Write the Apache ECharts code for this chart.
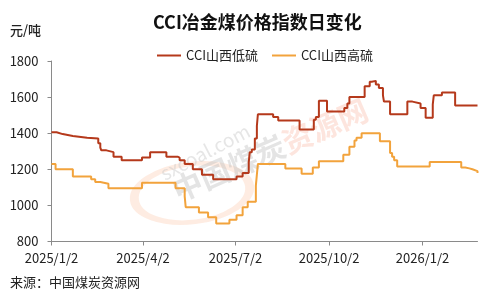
<!DOCTYPE html>
<html>
<head>
<meta charset="utf-8">
<script src="https://cdn.jsdelivr.net/npm/echarts@6/dist/echarts.min.js"></script>
<style>
html,body{margin:0;padding:0;background:#fff;}
#c{width:495px;height:302px;}
</style>
</head>
<body>
<div id="c"></div>
<script>
// ---- data ----
const seriesNames = ['CCI山西低硫', 'CCI山西高硫'];
const lowDates = ['2025-01-02','2025-01-07','2025-01-13','2025-01-23','2025-02-06','2025-02-17','2025-02-19','2025-02-20','2025-02-25','2025-03-04','2025-03-12','2025-04-01','2025-04-09','2025-04-25','2025-05-06','2025-05-08','2025-05-13','2025-05-21','2025-05-30','2025-06-10','2025-07-03','2025-07-09','2025-07-15','2025-07-16','2025-07-18','2025-07-21','2025-07-23','2025-07-24','2025-08-08','2025-08-13','2025-09-03','2025-09-17','2025-09-19','2025-09-22','2025-09-30','2025-10-17','2025-10-20','2025-10-22','2025-11-06','2025-11-11','2025-11-13','2025-11-17','2025-11-20','2025-11-24','2025-11-25','2025-12-01','2025-12-18','2025-12-23','2025-12-31','2026-01-05','2026-01-12','2026-01-13','2026-01-21','2026-02-03','2026-02-25'];
const lowValues = [1405,1395,1385,1375,1370,1345,1320,1305,1295,1270,1250,1265,1295,1270,1265,1250,1230,1200,1170,1145,1160,1180,1240,1295,1310,1370,1440,1505,1490,1470,1420,1475,1490,1580,1520,1540,1565,1600,1660,1685,1690,1670,1650,1610,1575,1505,1575,1565,1540,1485,1560,1610,1625,1553,1553];
const highDates = ['2025-01-02','2025-01-06','2025-01-23','2025-02-10','2025-02-14','2025-02-19','2025-02-27','2025-04-01','2025-05-04','2025-05-13','2025-05-14','2025-05-27','2025-06-05','2025-06-13','2025-06-26','2025-07-03','2025-07-09','2025-07-14','2025-07-22','2025-07-23','2025-07-24','2025-08-20','2025-09-05','2025-09-16','2025-09-22','2025-10-16','2025-10-22','2025-10-27','2025-10-29','2025-11-03','2025-11-21','2025-12-01','2025-12-03','2025-12-05','2025-12-08','2026-01-09','2026-02-09','2026-02-13','2026-02-17','2026-02-20','2026-02-25'];
const highValues = [1230,1200,1160,1145,1130,1120,1095,1125,1095,1050,990,960,935,900,920,945,990,1020,1110,1170,1230,1205,1175,1210,1245,1280,1325,1360,1375,1400,1355,1290,1270,1250,1215,1240,1210,1205,1200,1190,1180];
const xTickDates = ['2025-01-02','2025-04-02','2025-07-02','2025-10-02','2026-01-02'];
const xTickLabels = ['2025/1/2','2025/4/2','2025/7/2','2025/10/2','2026/1/2'];
const yTicks = [800,1000,1200,1400,1600,1800];
const axisStart = '2025-01-02';
const axisEnd = '2026-02-25';

// ---- helpers: x is days since axisStart ----
function dayNum(s){ const p = s.split('-').map(Number); return Math.round(Date.UTC(p[0], p[1]-1, p[2]) / 86400000); }
const d0 = dayNum(axisStart);
function dx(s){ return dayNum(s) - d0; }
function pair(dates, vals){ return dates.map((d,i)=>[dx(d), vals[i]]); }
const tickDays = xTickDates.map(dx);
function fmt(v){ const i = tickDays.indexOf(Math.round(v)); return i >= 0 ? xTickLabels[i] : ''; }

const FONT = '"Noto Sans CJK SC", "Noto Sans", sans-serif';
const chart = echarts.init(document.getElementById('c'), null, {renderer:'canvas'});

chart.setOption({
  animation: false,
  backgroundColor: '#ffffff',
  textStyle: { fontFamily: FONT },
  grid: { left: 51.5, right: 17.5, top: 61, bottom: 60.5, containLabel: false },
  legend: {
    data: seriesNames,
    left: 152, top: 44,
    itemWidth: 24, itemHeight: 10, itemGap: 14,
    icon: 'path://M0,4 L24,4 L24,6 L0,6 Z',
    textStyle: { fontSize: 13, color: '#222', fontFamily: FONT }
  },
  graphic: [
    { type: 'text', left: 153, top: 13, style: { text: 'CCI冶金煤价格指数日变化', font: 'bold 18px ' + FONT, fill: '#111' } },
    { type: 'text', left: 10, top: 24, style: { text: '元/吨', font: '500 13px ' + FONT, fill: '#222' } },
    { type: 'text', left: 10, top: 276, style: { text: '来源：中国煤炭资源网', font: '13px ' + FONT, fill: '#222' } },
    { type: 'circle', shape: { cx: 0, cy: 0, r: 58 }, x: 192, y: 193, scaleY: 0.5, rotation: 0.12, z: -1,
      style: { fill: 'none', stroke: 'rgba(250,185,150,0.28)', lineWidth: 9 } },
    { type: 'text', x: 205, y: 152, rotation: 0.48, z: -1,
      style: { text: 'sxcoal.com', font: '19px ' + FONT, fill: 'rgba(200,200,200,0.45)', align: 'center', verticalAlign: 'middle' } },
    { type: 'text', x: 270, y: 150, rotation: 0.41, z: -1,
      style: { text: '{g|中国煤炭}{p|资源网}', align: 'center', verticalAlign: 'middle',
        rich: { g: { font: 'bold 30px ' + FONT, fill: 'rgba(190,190,190,0.42)' }, p: { font: 'bold 30px ' + FONT, fill: 'rgba(248,180,160,0.35)' } } } }
  ],
  xAxis: {
    type: 'value',
    min: 0, max: dx(axisEnd),
    axisLine: { show: true, onZero: false, lineStyle: { color: '#8a8a8a', width: 1 } },
    axisTick: { show: true, length: 4, inside: false, customValues: tickDays, lineStyle: { color: '#8a8a8a' } },
    axisLabel: { show: true, customValues: tickDays, formatter: v => fmt(v), fontSize: 13, color: '#222', margin: 10, fontFamily: FONT, hideOverlap: false },
    splitLine: { show: false }
  },
  yAxis: {
    type: 'value', min: yTicks[0], max: yTicks[yTicks.length-1], interval: 200,
    axisLine: { show: true, lineStyle: { color: '#8a8a8a', width: 1 } },
    axisTick: { show: true, length: 4, lineStyle: { color: '#8a8a8a' } },
    axisLabel: { fontSize: 13, color: '#222', margin: 13, fontFamily: FONT, formatter: v => String(v) },
    splitLine: { show: false }
  },
  series: [
    { name: seriesNames[0], type: 'line', step: 'end', symbol: 'none', data: pair(lowDates, lowValues),
      itemStyle: { color: '#B5391B' }, lineStyle: { color: '#B5391B', width: 2 } },
    { name: seriesNames[1], type: 'line', step: 'end', symbol: 'none', data: pair(highDates, highValues),
      itemStyle: { color: '#F2A33C' }, lineStyle: { color: '#F2A33C', width: 2 } }
  ]
});
</script>
</body>
</html>
